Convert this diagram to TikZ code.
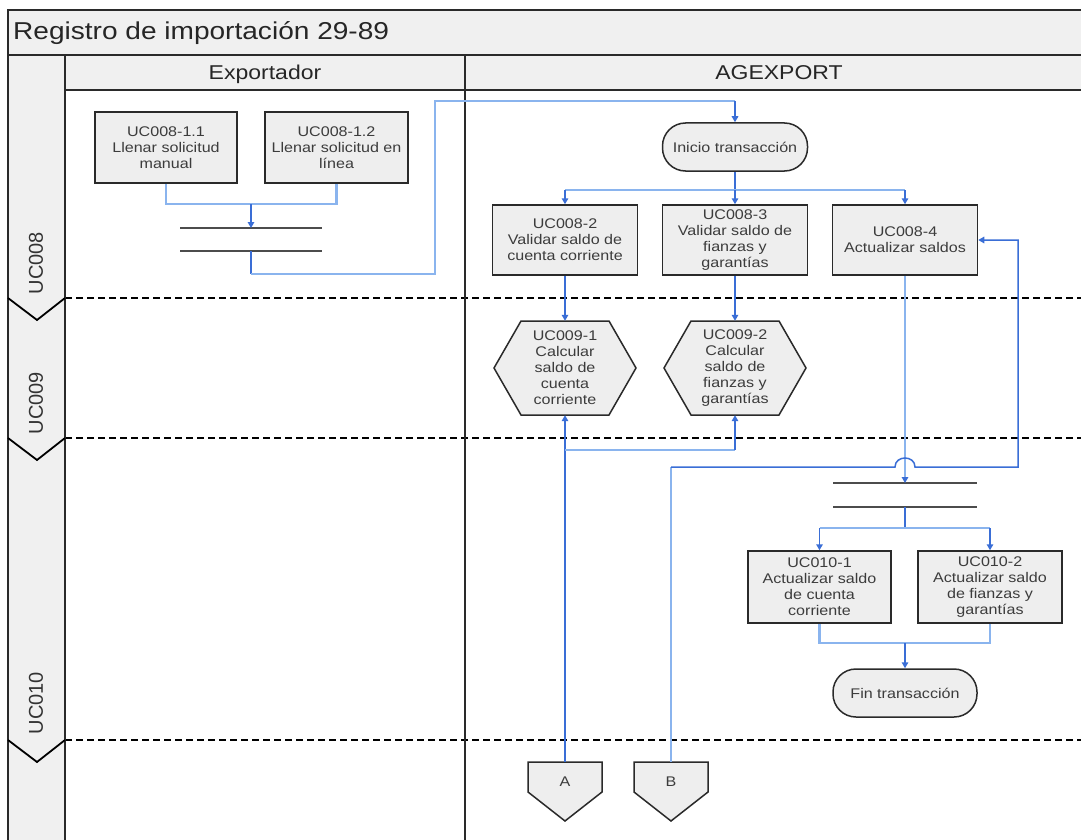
\documentclass[tikz,border=0pt]{standalone}
\usepackage{fontspec}
\setmainfont{Liberation Sans}[FakeStretch=1.15]
\newfontfamily\lanefont{Liberation Sans}
\usetikzlibrary{arrows.meta,calc}
\definecolor{lblue}{HTML}{8AB4EE}
\definecolor{dblue}{HTML}{3A6ED6}
\definecolor{frameclr}{HTML}{2A2A2A}
\definecolor{panel}{HTML}{F0F0F0}
\definecolor{boxfill}{HTML}{EEEEEE}
\definecolor{txt}{HTML}{3C3C3C}
\begin{document}
\begin{tikzpicture}[x=1pt,y=-1pt,
  boxfont/.style={font=\fontsize{14}{16}\selectfont},
  procbox/.style={boxfont,draw=frameclr,line width=1.5pt,fill=boxfill,minimum width=145pt,minimum height=70pt,inner sep=1pt,align=center,text=txt},
  pill/.style={procbox,rounded corners=23pt,minimum width=145pt,minimum height=48pt},
  hexlbl/.style={boxfont,minimum width=143pt,minimum height=94pt,inner sep=0pt,align=center,text=txt},
  shapeln/.style={draw=frameclr,line width=1.5pt,fill=boxfill},
  cl/.style={draw=lblue,line width=2.2pt},
  cd/.style={draw=dblue,line width=1.5pt},
  arrowend/.style={-{Triangle[length=6pt,width=6.5pt,color=dblue]}},
  barln/.style={draw=black!70,line width=2pt},
  frameln/.style={draw=frameclr,line width=2.4pt},
  lanesep/.style={draw=black,line width=2.2pt,dash pattern=on 7pt off 4pt},
  chev/.style={draw=black,line width=1.8pt},
  lanelbl/.style={font=\lanefont\fontsize{20}{24}\selectfont,text=black!80,rotate=90,inner sep=0pt}
]
\useasboundingbox (0,0) rectangle (1081,840);
\fill[white] (0,0) rectangle (1081,840);
% panels
\fill[panel] (8,10) rectangle (1081,55);
\fill[panel] (65,55) rectangle (1081,90);
\fill[panel] (8,55) rectangle (65,840);
% lane separators
\draw[lanesep] (65,298) -- (1081,298);
\draw[lanesep] (65,438) -- (1081,438);
\draw[lanesep] (65,740) -- (1081,740);
% frame
\draw[frameln] (1081,10) -- (8,10) -- (8,840);
\draw[frameln] (8,55) -- (1081,55);
\draw[frameln] (65,90) -- (1081,90);
\draw[frameln] (65,55) -- (65,840);
\draw[frameln] (465,55) -- (465,840);
% chevrons
\draw[chev] (8,298) -- (37,320) -- (65,298);
\draw[chev] (8,438) -- (37,460) -- (65,438);
\draw[chev] (8,740) -- (37,762) -- (65,740);
% texts of frame
\node[anchor=base west,inner sep=0pt,font=\fontsize{24.4}{28}\selectfont,text=black!85] (title) at (13,40) {Registro de importación 29-89};
\node[anchor=base,inner sep=0pt,font=\fontsize{20}{24}\selectfont,text=black!85] (hexp) at (265,80) {Exportador};
\node[anchor=base,inner sep=0pt,font=\fontsize{20}{24}\selectfont,text=black!85] (hage) at (779,80) {AGEXPORT};
\node[lanelbl] (l8) at (36,263) {UC008};
\node[lanelbl] (l9) at (36,403) {UC009};
\node[lanelbl] (l10) at (36,703) {UC010};
% bars
\draw[barln] (180,228) -- (322,228);
\draw[barln] (180,251) -- (322,251);
\draw[barln] (833,483) -- (977,483);
\draw[barln] (833,507) -- (977,507);
% process nodes
\node[procbox,minimum width=142pt,minimum height=71pt] (b11) at (166,147.5) {UC008-1.1\\Llenar solicitud\\manual};
\node[procbox,minimum width=143pt,minimum height=71pt] (b12) at (336.5,147.5) {UC008-1.2\\Llenar solicitud en\\línea};
\node[pill] (ini) at (735,147) {Inicio transacción};
\node[procbox] (b2) at (565,240) {UC008-2\\Validar saldo de\\cuenta corriente};
\node[procbox] (b3) at (735,240) {UC008-3\\Validar saldo de\\fianzas y\\garantías};
\node[procbox] (b4) at (905,240) {UC008-4\\Actualizar saldos};
% hexagons
\draw[shapeln] (494,368) -- (521,321) -- (609,321) -- (636,368) -- (609,415) -- (521,415) -- cycle;
\draw[shapeln] (664,368) -- (691,321) -- (779,321) -- (806,368) -- (779,415) -- (691,415) -- cycle;
\node[hexlbl] (hex1) at (565,368) {UC009-1\\Calcular\\saldo de\\cuenta\\corriente};
\node[hexlbl] (hex2) at (735,368) {UC009-2\\Calcular\\saldo de\\fianzas y\\garantías};
% UC010
\node[procbox,minimum width=143pt,minimum height=72pt] (c1) at (819.5,587) {UC010-1\\Actualizar saldo\\de cuenta\\corriente};
\node[procbox,minimum width=144pt,minimum height=72pt] (c2) at (990,587) {UC010-2\\Actualizar saldo\\de fianzas y\\garantías};
\node[pill,minimum width=144pt] (fin) at (905,693) {Fin transacción};
% off-page connectors
\draw[shapeln] (528,762) -- (602,762) -- (602,792) -- (565,821) -- (528,792) -- cycle;
\draw[shapeln] (634,762) -- (708,762) -- (708,792) -- (671,821) -- (634,792) -- cycle;
\node[boxfont,text=txt,inner sep=0pt] (A) at (565,782) {A};
\node[boxfont,text=txt,inner sep=0pt] (B) at (671,782) {B};
% coordinates
\coordinate (m1) at (251,204);
\coordinate (bar1) at (251,228);
\coordinate (bar2) at (251,251);
\coordinate (j1) at (251,274);
\coordinate (k1) at (435,274);
\coordinate (k2) at (435,101);
\coordinate (k3) at (735,101);
\coordinate (s1) at (735,190);
\coordinate (bar3) at (905,483);
\coordinate (bar4) at (905,507);
\coordinate (s2) at (905,528);
\coordinate (s3) at (905,643);
\coordinate (Atop) at (565,762);
\coordinate (Btop) at (671,762);
\coordinate (ab) at (565,450);
\coordinate (bj) at (671,467);
\coordinate (h1) at (895,467);
\coordinate (h2) at (915,467);
\coordinate (r1) at (1018,467);
\coordinate (r2) at (1018,240);
% connectors
\draw[cl] (b11.south) |- (m1);
\draw[cl] (b12.south) |- (m1);
\draw[cd,arrowend] (m1) -- (bar1);
\draw[cd] (bar2) -- (j1);
\draw[cl] (j1) -- (k1) -- (k2) -- (k3);
\draw[cd,arrowend] (k3) -- (ini.north);
\draw[cd] (ini.south) -- (s1);
\draw[cl] (b2.north |- s1) -- (b4.north |- s1);
\draw[cd,arrowend] (b2.north |- s1) -- (b2.north);
\draw[cd,arrowend] (s1) -- (b3.north);
\draw[cd,arrowend] (b4.north |- s1) -- (b4.north);
\draw[cd,arrowend] (b2.south) -- (hex1.north);
\draw[cd,arrowend] (b3.south) -- (hex2.north);
\draw[cl,arrowend] (b4.south) -- (bar3);
\draw[cd,arrowend] (Atop) -- (hex1.south);
\draw[cl] (ab) -- (ab -| hex2.south);
\draw[cd,arrowend] (ab -| hex2.south) -- (hex2.south);
\draw[cl] (Btop) -- (bj);
\draw[cd,arrowend] (bj) -- (h1) .. controls (895,455) and (915,455) .. (h2) -- (r1) -- (r2) -- (b4.east);
\draw[cd] (bar4) -- (s2);
\draw[cl] (c1.north |- s2) -- (c2.north |- s2);
\draw[cd,arrowend] (c1.north |- s2) -- (c1.north);
\draw[cd,arrowend] (c2.north |- s2) -- (c2.north);
\draw[cl] (c1.south) |- (s3);
\draw[cl] (c2.south) |- (s3);
\draw[cd,arrowend] (s3) -- (fin.north);
\end{tikzpicture}
\end{document}
